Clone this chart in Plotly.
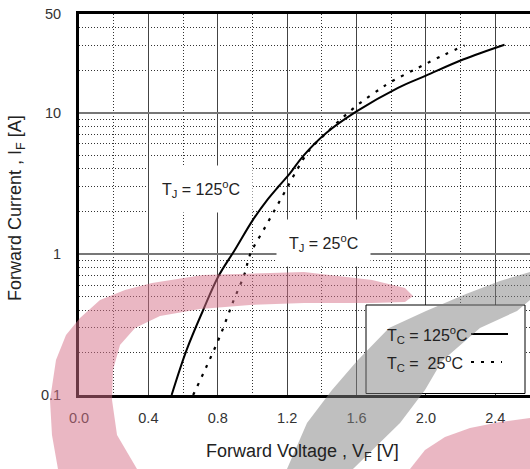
import plotly.graph_objects as go

# ---- data ----
v_125 = [0.534, 0.62, 0.716, 0.803, 0.899, 1.0, 1.09, 1.15, 1.215, 1.292, 1.427, 1.6, 1.839, 2.0, 2.214, 2.453]
i_125 = [0.1, 0.208, 0.40, 0.69, 1.07, 1.72, 2.45, 3.0, 3.7, 4.92, 7.2, 10.2, 15.0, 18.3, 23.8, 30.3]

v_25 = [0.658, 0.735, 0.812, 0.889, 0.956, 0.985, 1.08, 1.168, 1.258, 1.327, 1.427, 1.523, 1.628, 1.738, 1.79, 1.955, 2.108, 2.223]
i_25 = [0.1, 0.159, 0.26, 0.46, 0.73, 0.98, 1.6, 2.5, 3.96, 5.4, 7.2, 9.3, 11.9, 14.8, 16.3, 20.8, 25.8, 29.9]

x_ticks = [0.0, 0.4, 0.8, 1.2, 1.6, 2.0, 2.4]
x_ticklabels = ["0.0", "0.4", "0.8", "1.2", "1.6", "2.0", "2.4"]
x_minor = [0.2, 0.6, 1.0, 1.4, 1.8, 2.2]
y_ticks = [0.1, 1, 10, 50]
y_ticklabels = ["0.1", "1", "10", "50"]
y_minor = [0.2, 0.3, 0.4, 0.5, 0.6, 0.7, 0.8, 0.9, 2, 3, 4, 5, 6, 7, 8, 9, 20, 30, 40]

# ---- layout geometry (pixels) ----
W, H = 530, 469
L, R, T, B = 79, 0, 14, 74
PW, PH = W - L - R, H - T - B


def px(x):
    return (x - L) / PW


def py(y):
    return (H - B - y) / PH


def path(points):
    return "M " + " L ".join(f"{px(a):.4f},{py(b):.4f}" for a, b in points) + " Z"


FONT = "Liberation Sans, Arial, sans-serif"

fig = go.Figure()
fig.add_trace(go.Scatter(x=v_125, y=i_125, mode="lines", line=dict(color="black", width=2, smoothing=1.0),
                         line_shape="spline", showlegend=False))
fig.add_trace(go.Scatter(x=v_25, y=i_25, mode="lines", line=dict(color="black", width=2.2, dash="3px,7px"),
                         line_shape="spline", showlegend=False))

fig.update_layout(
    width=W, height=H,
    margin=dict(l=L, r=R, t=T, b=B),
    paper_bgcolor="white", plot_bgcolor="white",
    font=dict(family=FONT, color="#222", size=14),
    showlegend=False,
)
fig.update_xaxes(
    range=[0, 2.6], tickmode="array", tickvals=x_ticks, ticktext=x_ticklabels,
    showline=True, linecolor="black", linewidth=3, mirror=True,
    showgrid=True, gridcolor="#444", gridwidth=1.3,
    ticks="", ticklabelstandoff=8, tickfont=dict(size=14.5, color="#333"),
    zeroline=False,
    minor=dict(tickmode="array", tickvals=x_minor, showgrid=True, gridcolor="#333",
               griddash="1px,2px", gridwidth=1, ticks=""),
)
fig.update_yaxes(
    type="log", range=[-1, 1.69897], tickmode="array", tickvals=y_ticks, ticktext=y_ticklabels,
    showline=True, linecolor="black", linewidth=3, mirror=False,
    showgrid=True, gridcolor="#777", gridwidth=2,
    ticks="", ticklabelstandoff=12, tickfont=dict(size=14.5, color="#333"),
    zeroline=False,
    minor=dict(tickmode="array", tickvals=y_minor, showgrid=True, gridcolor="#333",
               griddash="1px,2px", gridwidth=1, ticks=""),
)

shapes = []
# legend box
shapes.append(dict(type="rect", xref="paper", yref="paper", x0=px(366), x1=px(525), y0=py(393.5), y1=py(305),
                   fillcolor="white", line=dict(color="black", width=1), layer="above"))
# legend samples
shapes.append(dict(type="line", xref="paper", yref="paper", x0=px(471), x1=px(508), y0=py(334), y1=py(334),
                   line=dict(color="black", width=2), layer="above"))
shapes.append(dict(type="line", xref="paper", yref="paper", x0=px(471), x1=px(502), y0=py(362), y1=py(362),
                   line=dict(color="black", width=2, dash="3px,7px"), layer="above"))

# watermark decoration
pink = "rgba(213,111,135,0.5)"
gray = "rgba(128,128,128,0.5)"
ring = [(58, 469), (52, 435), (50, 400), (56, 360), (66, 335), (80, 318), (100, 300), (125, 290), (152, 283),
        (203, 275), (304, 272), (372, 280), (405, 288), (413, 296),
        (405, 302), (372, 303), (304, 303), (250, 305), (200, 309), (160, 316), (135, 328), (120, 345),
        (113, 370), (112, 400), (117, 435), (137, 469)]
blob = [(410, 469), (425, 450), (445, 437), (470, 428), (500, 422), (530, 418), (530, 469)]
band = [(287, 469), (307, 423), (332, 390), (357, 361), (389, 328), (426, 311), (466, 294), (500, 281), (530, 272),
        (530, 300), (517, 311), (480, 328), (442, 361), (425, 390), (400, 423), (353, 469)]
for pts, col in [(ring, pink), (blob, pink), (band, gray)]:
    shapes.append(dict(type="path", xref="paper", yref="paper", path=path(pts), fillcolor=col,
                       line=dict(width=0), layer="above"))
fig.update_layout(shapes=shapes)

ann = []
ann.append(dict(xref="paper", yref="paper", x=px(302), y=py(452), text="Forward Voltage , V<sub>F</sub> [V]",
                showarrow=False, font=dict(size=18, color="#222"), xanchor="center", yanchor="middle"))
ann.append(dict(xref="paper", yref="paper", x=px(16), y=py(208), text="Forward Current , I<sub>F</sub> [A]",
                showarrow=False, font=dict(size=18, color="#222"), textangle=-90, xanchor="center", yanchor="middle"))
ann.append(dict(xref="paper", yref="paper", x=px(201), y=py(189), text="T<sub>J</sub> = 125<sup>o</sup>C",
                showarrow=False, font=dict(size=16, color="#222"), bgcolor="white", borderpad=12,
                xanchor="center", yanchor="middle"))
ann.append(dict(xref="paper", yref="paper", x=px(323), y=py(243), text="T<sub>J</sub> = 25<sup>o</sup>C",
                showarrow=False, font=dict(size=16, color="#222"), bgcolor="white", borderpad=12,
                xanchor="center", yanchor="middle"))
ann.append(dict(xref="paper", yref="paper", x=px(385), y=py(335), text="T<sub>C</sub> = 125<sup>o</sup>C",
                showarrow=False, font=dict(size=16, color="#222"), xanchor="left", yanchor="middle"))
ann.append(dict(xref="paper", yref="paper", x=px(385), y=py(363), text="T<sub>C</sub> =\u00a0 25<sup>o</sup>C",
                showarrow=False, font=dict(size=16, color="#222"), xanchor="left", yanchor="middle"))
fig.update_layout(annotations=ann)

fig.write_html("out.html")
